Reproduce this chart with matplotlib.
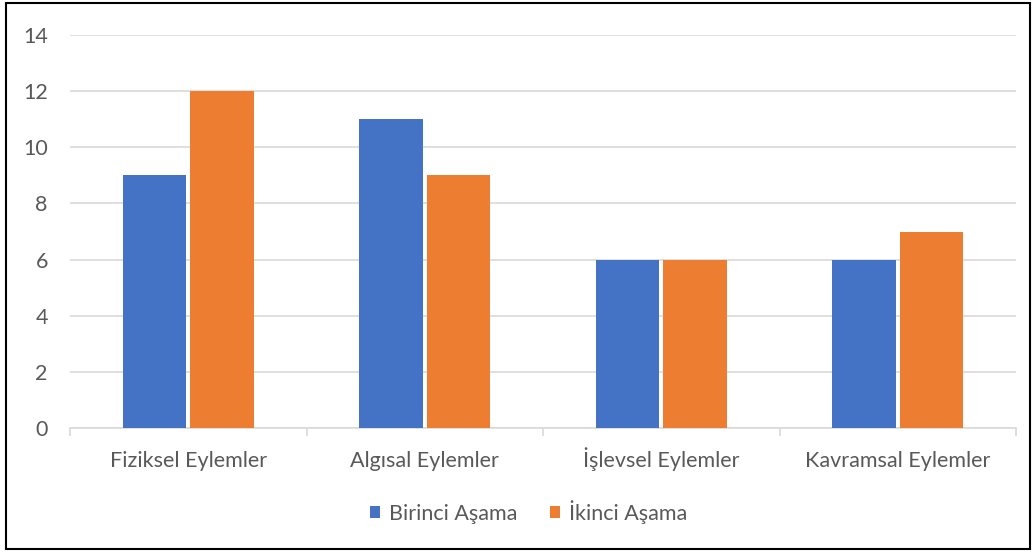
import matplotlib.pyplot as plt
from matplotlib.patches import Rectangle
import numpy as np

plt.rcParams['font.family'] = ['Lato', 'DejaVu Sans']

categories = ['Fiziksel Eylemler', 'Algısal Eylemler', 'İşlevsel Eylemler', 'Kavramsal Eylemler']
birinci = [9, 11, 6, 6]
ikinci = [12, 9, 6, 7]
yticks = [0, 2, 4, 6, 8, 10, 12, 14]

blue = '#4472C4'
orange = '#ED7D31'
grey_text = '#595959'
grid_col = '#D9D9D9'
fs = 15.5

fig = plt.figure(figsize=(10.35, 5.52), dpi=100)
ax = fig.add_axes([70 / 1035, 1 - 428 / 552, 946 / 1035, 393 / 552])

x = np.arange(len(categories))
w = 0.27
off = 0.1425
ax.bar(x - off, birinci, w, color=blue, label='Birinci Aşama', zorder=3)
ax.bar(x + off, ikinci, w, color=orange, label='İkinci Aşama', zorder=3)

ax.set_xlim(-0.5, len(categories) - 0.5)
ax.set_ylim(0, 14)
ax.set_yticks(yticks)
ax.set_xticks(x)
ax.set_xticklabels(categories)
ax.set_xticks(np.arange(-0.5, len(categories)), minor=True)

ax.yaxis.grid(True, color=grid_col, linewidth=1.2, zorder=0)
ax.set_axisbelow(True)
for side in ['top', 'right', 'left']:
    ax.spines[side].set_visible(False)
ax.spines['bottom'].set_color(grid_col)
ax.spines['bottom'].set_linewidth(1.2)

ax.tick_params(axis='y', length=0, pad=16, labelsize=fs, labelcolor=grey_text)
ax.tick_params(axis='x', which='major', length=0, pad=28, labelsize=fs, labelcolor=grey_text)
ax.tick_params(axis='x', which='minor', length=6, width=1.2, color=grid_col)
# keep the category names on one baseline (İ has a dot above)
for lbl in ax.get_xticklabels():
    lbl.set_verticalalignment('baseline')

leg = fig.legend(loc='center', bbox_to_anchor=(0.511, 1 - 512 / 552), ncol=2, frameon=False,
                 fontsize=fs, handlelength=0.45, handleheight=0.45, handletextpad=0.45,
                 columnspacing=1.5)
for t in leg.get_texts():
    t.set_color(grey_text)

# outer frame around the chart
fig.patches.append(Rectangle((6 / 1035, 3 / 552), 1024 / 1035, 546 / 552, transform=fig.transFigure,
                             fill=False, edgecolor='black', linewidth=1.5))

fig.savefig('out.png', dpi=100)
